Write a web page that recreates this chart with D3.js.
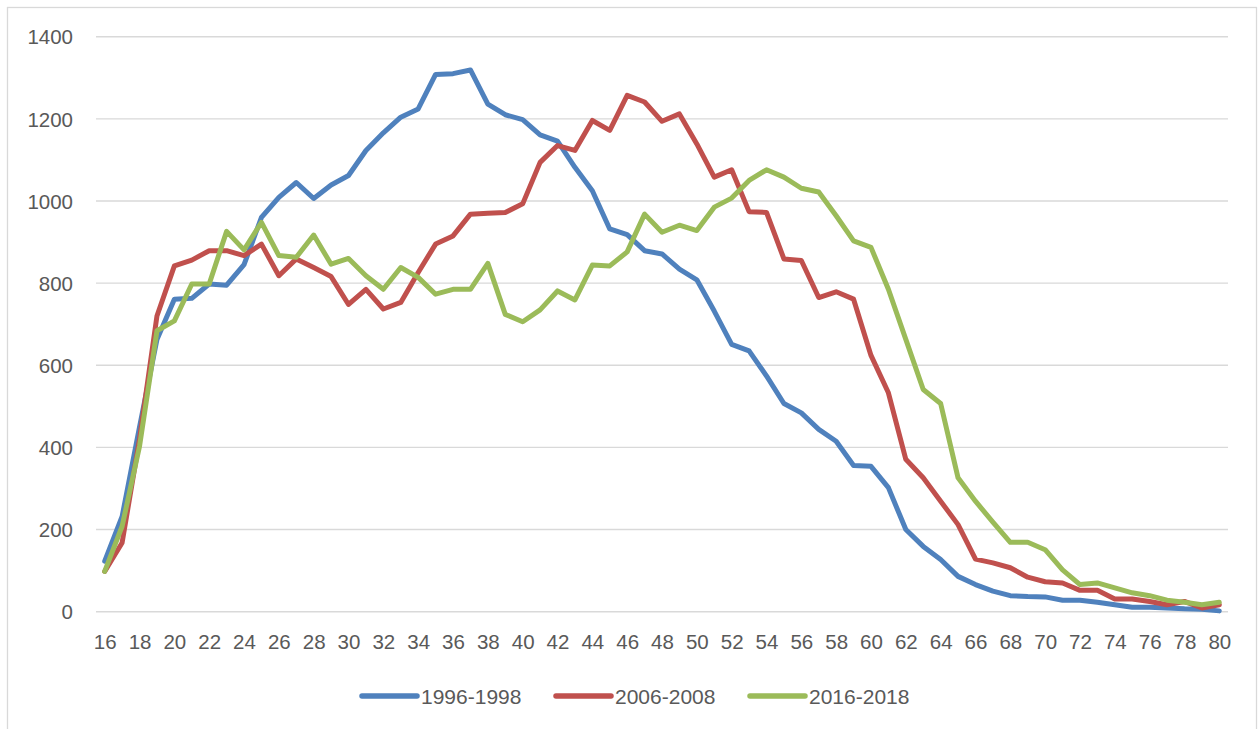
<!DOCTYPE html>
<html>
<head>
<meta charset="utf-8">
<script src="https://cdn.jsdelivr.net/npm/d3@7"></script>
<style>
    body { margin: 0; background: #fff; }
    .tick-text { font-family: "Liberation Sans", Arial, sans-serif; font-size: 20.5px; fill: #595959; }
    .legend-text { font-family: "Liberation Sans", Arial, sans-serif; font-size: 21px; fill: #595959; }
    .grid-line { stroke: #d9d9d9; stroke-width: 1.4; }
    .series-line { fill: none; stroke-width: 5; stroke-linejoin: round; stroke-linecap: round; }
</style>
</head>
<body>
<svg></svg>
<script>
// ages on the x axis
var ages = d3.range(16, 81);

var seriesNames = ['1996-1998', '2006-2008', '2016-2018'];
var seriesColors = ['#4f81bd', '#c0504d', '#9bbb59'];

var values1996 = [123, 232, 450, 663, 761, 763, 798, 795, 845, 960,
    1009, 1045, 1006, 1039, 1062, 1123, 1166, 1204, 1224, 1308,
    1310, 1319, 1236, 1210, 1198, 1161, 1146, 1082, 1025, 932,
    918, 879, 871, 834, 808, 732, 651, 635, 574, 507,
    484, 444, 415, 356, 354, 302, 200, 159, 127, 86,
    66, 50, 39, 37, 36, 28, 28, 23, 17, 11,
    11, 9, 7, 6, 2];

var values2006 = [98, 168, 420, 720, 842, 856, 879, 879, 867, 895,
    818, 859, 838, 816, 748, 785, 737, 753, 826, 895,
    915, 968, 970, 972, 993, 1094, 1135, 1123, 1196, 1172,
    1257, 1241, 1194, 1212, 1139, 1058, 1076, 974, 972, 859,
    855, 765, 779, 761, 624, 533, 371, 326, 269, 212,
    128, 119, 107, 84, 73, 70, 52, 52, 31, 31,
    25, 17, 25, 9, 17];

var values2016 = [98, 208, 403, 684, 708, 798, 798, 926, 881, 948,
    867, 863, 917, 846, 860, 818, 785, 838, 814, 773,
    785, 785, 848, 724, 706, 735, 781, 759, 844, 842,
    876, 968, 924, 941, 928, 985, 1007, 1050, 1076, 1058,
    1031, 1022, 964, 903, 887, 785, 663, 541, 507, 326,
    269, 218, 169, 169, 151, 102, 66, 70, 58, 46,
    39, 28, 23, 17, 23];

var yTicks = [0, 200, 400, 600, 800, 1000, 1200, 1400];
var xTickLabels = ages.filter(function (d) { return d % 2 === 0; });

var allSeries = [values1996, values2006, values2016];

// sizes
var width = 1258;
var height = 729;
var plotLeft = 96;
var plotRight = 1228;
var plotTop = 36.7;
var plotBottom = 611.7;

var svg = d3.select('svg')
    .attr('width', width)
    .attr('height', height);

// outer border of the chart area
svg.append('rect')
    .attr('x', 7.5)
    .attr('y', 7.5)
    .attr('width', 1249)
    .attr('height', 730)
    .attr('fill', 'none')
    .attr('stroke', '#d9d9d9')
    .attr('stroke-width', 1.3);

var x = d3.scalePoint()
    .domain(ages)
    .range([plotLeft, plotRight])
    .padding(0.5);

var y = d3.scaleLinear()
    .domain([0, 1400])
    .range([plotBottom, plotTop]);

// horizontal grid lines
svg.append('g')
    .selectAll('line')
    .data(yTicks)
    .enter()
        .append('line')
        .attr('class', 'grid-line')
        .attr('x1', plotLeft)
        .attr('x2', plotRight)
        .attr('y1', function (d) { return y(d); })
        .attr('y2', function (d) { return y(d); });

// y axis labels, no thousands separator
var yAxis = svg.append('g')
    .attr('transform', 'translate(' + (plotLeft - 23) + ',0)')
    .call(d3.axisLeft(y).tickValues(yTicks).tickFormat(d3.format('d')).tickSize(0).tickPadding(0));
yAxis.select('.domain').remove();
yAxis.selectAll('text')
    .attr('class', 'tick-text')
    .attr('dy', '0.35em')
    .attr('font-size', null)
    .attr('font-family', null);

// x axis labels
var xAxis = svg.append('g')
    .attr('transform', 'translate(0,' + plotBottom + ')')
    .call(d3.axisBottom(x).tickValues(xTickLabels).tickSize(0).tickPadding(23));
xAxis.select('.domain').remove();
xAxis.selectAll('text')
    .attr('class', 'tick-text')
    .attr('font-size', null)
    .attr('font-family', null);

// the three lines
var line = d3.line()
    .x(function (d, i) { return x(ages[i]); })
    .y(function (d) { return y(d); });

svg.append('g')
    .selectAll('path')
    .data(allSeries)
    .enter()
        .append('path')
        .attr('class', 'series-line')
        .attr('stroke', function (d, i) { return seriesColors[i]; })
        .attr('d', line);

// legend
var legendX = 362;
var legendStep = 194;
var legendY = 696;

var legend = svg.append('g')
    .selectAll('g')
    .data(seriesNames)
    .enter()
        .append('g')
        .attr('transform', function (d, i) { return 'translate(' + (legendX + legendStep * i) + ',' + legendY + ')'; });

legend.append('line')
    .attr('x1', 0)
    .attr('x2', 55)
    .attr('y1', 0)
    .attr('y2', 0)
    .attr('stroke', function (d, i) { return seriesColors[i]; })
    .attr('stroke-width', 5.5)
    .attr('stroke-linecap', 'round');

legend.append('text')
    .attr('class', 'legend-text')
    .attr('x', 59)
    .attr('y', 0)
    .attr('dy', '0.36em')
    .text(function (d) { return d; });
</script>
</body>
</html>
